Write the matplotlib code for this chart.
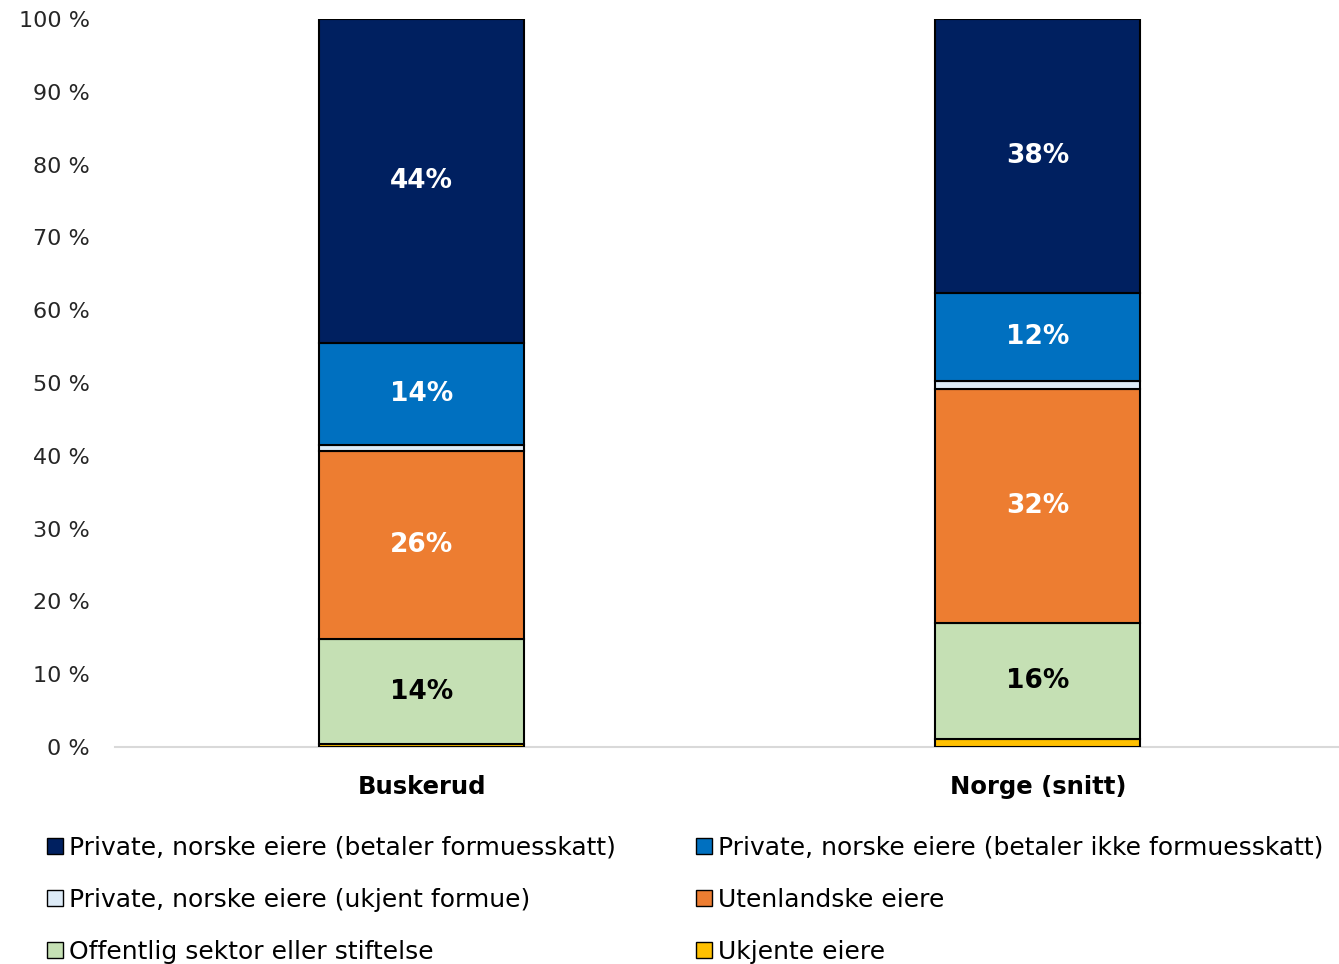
import matplotlib
matplotlib.use("Agg")
import matplotlib.pyplot as plt
import numpy as np
from matplotlib.patches import Patch

categories = ["Buskerud", "Norge (snitt)"]
series_names = [
    "Ukjente eiere",
    "Offentlig sektor eller stiftelse",
    "Utenlandske eiere",
    "Private, norske eiere (ukjent formue)",
    "Private, norske eiere (betaler ikke formuesskatt)",
    "Private, norske eiere (betaler formuesskatt)",
]
ukjente = [0.4, 1.05]
offentlig = [14.4, 15.95]
utenlandske = [25.8, 32.2]
ukjent_formue = [0.9, 1.1]
ikke_formuesskatt = [14.0, 12.1]
formuesskatt = [44.5, 37.6]
label_texts = {
    1: ["14%", "16%"],
    2: ["26%", "32%"],
    4: ["14%", "12%"],
    5: ["44%", "38%"],
}
yticks = list(range(0, 101, 10))
ytick_labels = [f"{v} %" for v in yticks]

colors = ["#FFC000", "#C5E0B4", "#ED7D31", "#DDEBF7", "#0070C0", "#002060"]
text_colors = {1: "black", 2: "white", 4: "white", 5: "white"}

plt.rcParams['font.family'] = ['DejaVu Sans']

fig = plt.figure(figsize=(13.39, 9.64), dpi=100)
ax = fig.add_axes([115/1339, (964-747)/964, 1 - 115/1339, (747-19)/964])

data = [ukjente, offentlig, utenlandske, ukjent_formue, ikke_formuesskatt, formuesskatt]
x = np.arange(len(categories))
bottom = np.zeros(len(categories))
for i, vals in enumerate(data):
    vals = np.array(vals)
    ax.bar(x, vals, bottom=bottom, width=0.333, color=colors[i],
           edgecolor="black", linewidth=1.5, zorder=3)
    if i in label_texts:
        for j in range(len(categories)):
            ax.text(x[j], bottom[j] + vals[j] / 2, label_texts[i][j],
                    ha="center", va="center", fontsize=19, fontweight="bold",
                    color=text_colors[i], zorder=4)
    bottom += vals

ax.set_xlim(-0.498, 1.489)
ax.set_ylim(0, 100)
ax.set_yticks(yticks)
ax.set_yticklabels(ytick_labels, fontsize=16, color="#262626")
ax.set_xticks(x)
ax.set_xticklabels(categories, fontsize=17.5, fontweight="bold", color="black")
ax.tick_params(axis="both", length=0)
ax.tick_params(axis="y", pad=18)
ax.tick_params(axis="x", pad=20)
for s in ["top", "right", "left"]:
    ax.spines[s].set_visible(False)
ax.spines["bottom"].set_color("#D9D9D9")
ax.spines["bottom"].set_linewidth(1.5)
ax.set_facecolor("white")

left_idx = [5, 3, 1]
right_idx = [4, 2, 0]
for idxs, xpos in [(left_idx, 47/1339), (right_idx, 696/1339)]:
    handles = [Patch(facecolor=colors[k], edgecolor="black", linewidth=1.0,
                     label=series_names[k]) for k in idxs]
    fig.legend(handles=handles, loc="upper left", bbox_to_anchor=(xpos, (964-836)/964),
               frameon=False, fontsize=18, handlelength=0.62, handleheight=0.62,
               handletextpad=0.25, labelspacing=1.12, borderaxespad=0, borderpad=0)

fig.savefig("out.png", dpi=100, facecolor="white")
